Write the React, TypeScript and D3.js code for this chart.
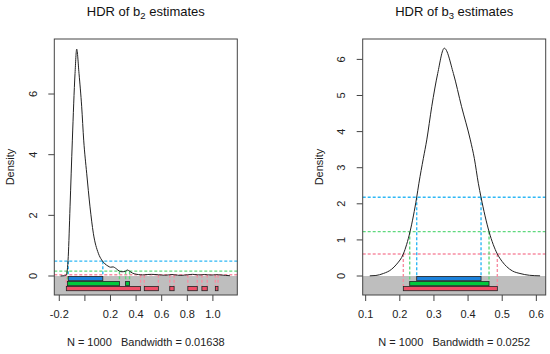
import React from 'react'
import * as d3 from 'd3'

// HDR of b2 estimates: density curve
const b2X = [-0.19, -0.16, -0.148, -0.145, -0.1375, -0.13, -0.116, -0.098, -0.077, -0.064, -0.046, -0.025, -0.0094, 0.014, 0.04, 0.066, 0.105, 0.131, 0.157, 0.18, 0.2, 0.22, 0.245, 0.27, 0.29, 0.318, 0.33, 0.349, 0.37, 0.4, 0.435, 0.45, 0.464, 0.52, 0.574, 0.62, 0.663, 0.68, 0.697, 0.75, 0.804, 0.84, 0.878, 0.9, 0.914, 0.935, 0.956, 0.99, 1.019, 1.03, 1.04, 1.1, 1.133]
const b2Y = [0.0, 0.01, 0.03, 0.04, 0.2, 0.64, 2.28, 4.48, 6.68, 7.48, 6.68, 5.58, 4.48, 3.39, 2.28, 1.41, 0.75, 0.53, 0.4, 0.33, 0.29, 0.3, 0.24, 0.16, 0.14, 0.16, 0.2, 0.16, 0.1, 0.06, 0.04, 0.035, 0.04, 0.055, 0.04, 0.025, 0.04, 0.05, 0.04, 0.02, 0.04, 0.055, 0.04, 0.035, 0.04, 0.05, 0.04, 0.03, 0.04, 0.045, 0.04, 0.02, 0.01]
const b2XTicks = [-0.2, 0, 0.2, 0.4, 0.6, 0.8, 1.0]
const b2XLabels = ['-0.2', '', '0.2', '0.4', '0.6', '0.8', '1.0']
const b2YTicks = [0, 2, 4, 6]
const b2Levels = [0.49, 0.16, 0.04]
const b2Blue = [[-0.13, 0.14]]
const b2Green = [[-0.137, 0.27], [0.318, 0.349]]
const b2Red = [[-0.145, 0.435], [0.464, 0.574], [0.663, 0.697], [0.804, 0.878], [0.914, 0.956], [1.019, 1.04]]

// HDR of b3 estimates
const b3X = [0.112, 0.13, 0.152, 0.175, 0.191, 0.2103, 0.23, 0.2495, 0.256, 0.269, 0.279, 0.2935, 0.311, 0.3304, 0.357, 0.381, 0.4066, 0.4183, 0.43, 0.438, 0.4614, 0.4857, 0.5, 0.513, 0.53, 0.552, 0.58, 0.611]
const b3Y = [0.005, 0.015, 0.07, 0.18, 0.33, 0.61, 1.23, 2.18, 2.57, 3.26, 3.77, 4.69, 5.61, 6.31, 5.61, 4.69, 3.77, 3.26, 2.57, 2.18, 1.23, 0.61, 0.4, 0.26, 0.14, 0.07, 0.02, 0.005]
const b3XTicks = [0.1, 0.2, 0.3, 0.4, 0.5, 0.6]
const b3XLabels = ['0.1', '0.2', '0.3', '0.4', '0.5', '0.6']
const b3YTicks = [0, 1, 2, 3, 4, 5, 6]
const b3Levels = [2.18, 1.23, 0.61]
const b3Blue = [[0.2495, 0.438]]
const b3Green = [[0.229, 0.4614]]
const b3Red = [[0.2103, 0.4857]]

const barFill = ['#1c82dc', '#00c83c', '#ef5068']
const dashCol = ['#2fb8f5', '#5fd97e', '#f78da2']
const FONT = 'Liberation Sans, Arial, sans-serif'

type PanelProps = {
  sub: string
  note: string
  xs: number[]
  ys: number[]
  box: [number, number, number, number] // left, right, top, bottom
  xDomain: [number, number]
  yDomain: [number, number]
  xTicks: number[]
  xLabels: string[]
  yTicks: number[]
  levels: number[]
  regions: number[][][]
}

function Panel(p: PanelProps) {
  const [l, r, t, b] = p.box
  const x = d3.scaleLinear().domain(p.xDomain).range([l, r])
  const y = d3.scaleLinear().domain(p.yDomain).range([b, t])
  const y0 = y(0)
  const pts = p.xs.map((v, i) => [v, p.ys[i]] as [number, number])
  const line = d3.line<[number, number]>()
    .x(d => x(d[0]))
    .y(d => y(d[1]))
    .curve(d3.curveMonotoneX)
  const cx = (l + r) / 2
  const cy = (t + b) / 2
  const bandTop = (i: number) => y0 + i * 5

  return (
    <g>
      <text x={cx} y={16} textAnchor="middle" fontSize={13} fontFamily={FONT} fill="#111">
        HDR of b<tspan fontSize={9.5} dy={3}>{p.sub}</tspan><tspan dy={-3}> estimates</tspan>
      </text>
      <rect x={l} y={y0} width={r - l} height={b - y0} fill="#bebebe" />
      {p.levels.map((lv, i) => (
        <line key={'h' + i} x1={l} x2={r} y1={y(lv)} y2={y(lv)} stroke={dashCol[i]} strokeWidth={1.4} strokeDasharray="3,2" />
      ))}
      {p.regions.map((reg, i) => reg.flatMap((seg, j) => seg.map((v, k) => (
        <line key={`v${i}-${j}-${k}`} x1={x(v)} x2={x(v)} y1={y(p.levels[i])} y2={bandTop(i)} stroke={dashCol[i]} strokeWidth={1.4} strokeDasharray="3,2" />
      ))))}
      <path d={line(pts) || ''} fill="none" stroke="#222" strokeWidth={1} />
      {p.regions.map((reg, i) => reg.map((seg, j) => (
        <rect key={`b${i}-${j}`} x={x(seg[0])} y={bandTop(i) + 0.5} width={x(seg[1]) - x(seg[0])} height={4.2} fill={barFill[i]} stroke="#222" strokeWidth={0.8} />
      )))}
      <rect x={l} y={t} width={r - l} height={b - t} fill="none" stroke="#444" strokeWidth={1} />
      {p.xTicks.map((v, i) => (
        <g key={'xt' + i}>
          <line x1={x(v)} x2={x(v)} y1={b} y2={b + 6} stroke="#444" />
          <text x={x(v)} y={318} textAnchor="middle" fontSize={11} fontFamily={FONT} fill="#222">{p.xLabels[i]}</text>
        </g>
      ))}
      {p.yTicks.map((v, i) => (
        <g key={'yt' + i}>
          <line x1={l - 6} x2={l} y1={y(v)} y2={y(v)} stroke="#444" />
          <text transform={`translate(${l - 21.5},${y(v)}) rotate(-90)`} textAnchor="middle" dominantBaseline="central" fontSize={11} fontFamily={FONT} fill="#222">{v}</text>
        </g>
      ))}
      <text transform={`translate(${l - 44},${cy}) rotate(-90)`} textAnchor="middle" dominantBaseline="central" fontSize={11} fontFamily={FONT} fill="#222">Density</text>
      <text x={cx} y={346} textAnchor="middle" fontSize={11} fontFamily={FONT} fill="#222" style={{ whiteSpace: 'pre' }}>{p.note}</text>
    </g>
  )
}

export default function App() {
  return (
    <div style={{ position: 'fixed', left: 0, top: 0 }}>
      <svg width={550} height={354} style={{ display: 'block', background: '#fff' }}>
        <Panel
          sub="2"
          note={'N = 1000   Bandwidth = 0.01638'}
          xs={b2X}
          ys={b2Y}
          box={[54.3, 237.3, 39, 295]}
          xDomain={[-0.239, 1.1906]}
          yDomain={[-0.626, 7.814]}
          xTicks={b2XTicks}
          xLabels={b2XLabels}
          yTicks={b2YTicks}
          levels={b2Levels}
          regions={[b2Blue, b2Green, b2Red]}
        />
        <Panel
          sub="3"
          note={'N = 1000   Bandwidth = 0.0252'}
          xs={b3X}
          ys={b3Y}
          box={[362.7, 545.7, 39, 295]}
          xDomain={[0.0913, 0.6274]}
          yDomain={[-0.526, 6.565]}
          xTicks={b3XTicks}
          xLabels={b3XLabels}
          yTicks={b3YTicks}
          levels={b3Levels}
          regions={[b3Blue, b3Green, b3Red]}
        />
      </svg>
    </div>
  )
}
